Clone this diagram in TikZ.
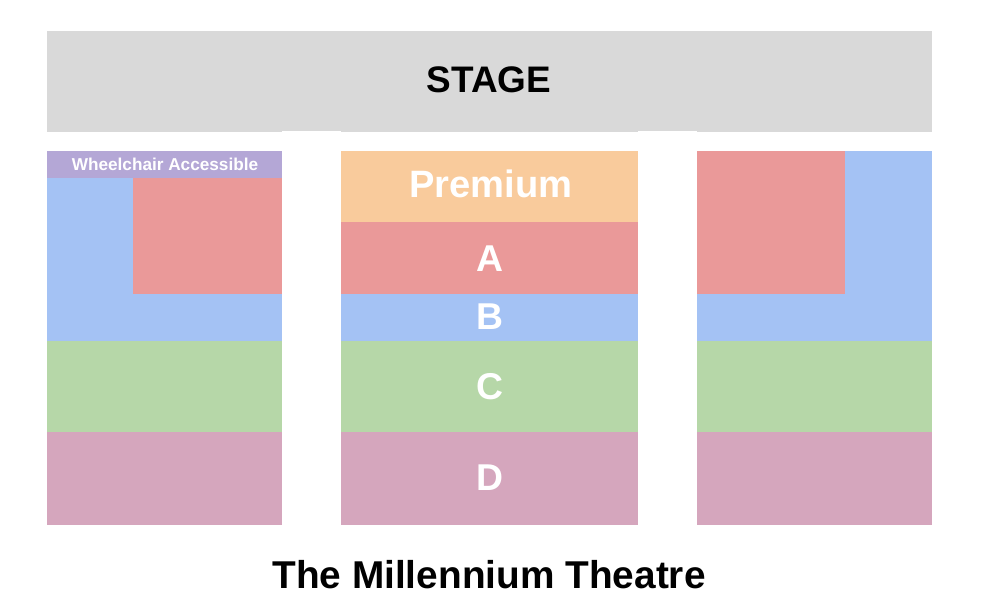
\documentclass[tikz,border=0pt]{standalone}
\usepackage{fontspec}
\setmainfont{Liberation Sans}
\definecolor{stagegray}{HTML}{D9D9D9}
\definecolor{wcpurple}{HTML}{B4A7D6}
\definecolor{secblue}{HTML}{A4C2F4}
\definecolor{secred}{HTML}{EA9999}
\definecolor{secorange}{HTML}{F9CB9C}
\definecolor{secgreen}{HTML}{B6D7A8}
\definecolor{secpink}{HTML}{D5A6BD}
\tikzset{
  bigwhite/.style={text=white,font=\bfseries\fontsize{28}{28}\selectfont,inner sep=0pt,anchor=base},
  bigblack/.style={text=black,font=\bfseries\fontsize{27.7}{27.7}\selectfont,inner sep=0pt,anchor=base},
  smallwhite/.style={text=white,font=\bfseries\fontsize{12.9}{12.9}\selectfont,inner sep=0pt,anchor=base},
}
\begin{document}
\begin{tikzpicture}[x=0.75pt,y=-0.75pt]
\useasboundingbox (0,0) rectangle (981,612);
% stage
\fill[stagegray] (47,31) rectangle (932,132);
\fill[white] (282,130.7) rectangle (341,151);
\fill[white] (638,130.7) rectangle (697,151);
\node[bigblack] (stage) at (489,92.5) {STAGE};
% left block
\fill[secblue] (47,151) rectangle (282,341);
\fill[wcpurple] (47,151) rectangle (282,178);
\fill[secred] (133,178) rectangle (282,294);
\fill[secgreen] (47,341) rectangle (282,432);
\fill[secpink] (47,432) rectangle (282,525);
\node[smallwhite] (wc) at (165,170.5) {Wheelchair Accessible};
% middle block
\fill[secorange] (341,151) rectangle (638,222);
\fill[secred] (341,222) rectangle (638,294);
\fill[secblue] (341,294) rectangle (638,341);
\fill[secgreen] (341,341) rectangle (638,432);
\fill[secpink] (341,432) rectangle (638,525);
\node[bigwhite,font=\bfseries\fontsize{28.6}{28.6}\selectfont] (prem) at (491,197) {Premium};
\node[bigwhite] (a) at (489.5,271) {A};
\node[bigwhite] (b) at (489.5,329.5) {B};
\node[bigwhite] (c) at (489.5,399) {C};
\node[bigwhite] (d) at (489.5,490.5) {D};
% right block
\fill[secblue] (697,151) rectangle (932,341);
\fill[secred] (697,151) rectangle (845,294);
\fill[secgreen] (697,341) rectangle (932,432);
\fill[secpink] (697,432) rectangle (932,525);
% title
\node[text=black,font=\bfseries\fontsize{29.1}{29.1}\selectfont,inner sep=0pt,anchor=base] (title) at (489,588) {The Millennium Theatre};
\end{tikzpicture}
\end{document}
